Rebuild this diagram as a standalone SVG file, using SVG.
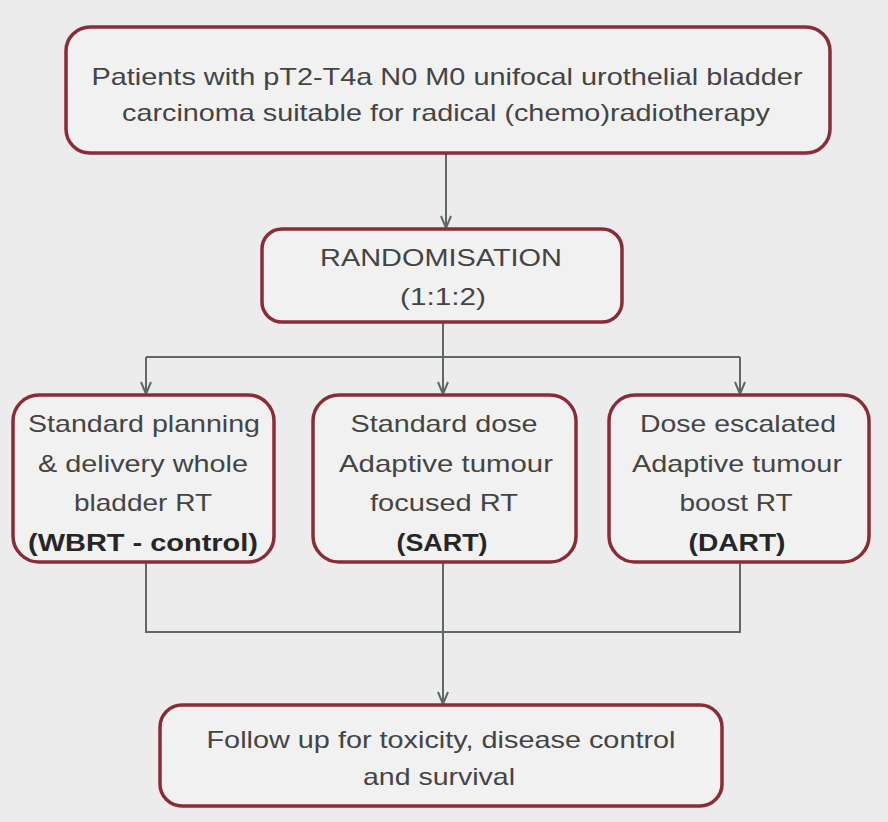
<svg xmlns="http://www.w3.org/2000/svg" width="888" height="822" viewBox="0 0 888 822">
<defs>
<style>
.box{fill:#f1f1f1;stroke:#8a2c38;stroke-width:3.5}
.t{font-family:"Liberation Sans",Arial,sans-serif;font-size:24px;fill:#444;text-anchor:middle}
.b{font-weight:bold;fill:#262626}
.c{fill:none;stroke:#5f6767;stroke-width:2}
</style>
<marker id="ah" viewBox="0 0 14 12" refX="13" refY="6" markerWidth="14" markerHeight="12" markerUnits="userSpaceOnUse" orient="auto">
<path d="M1,1 L13,6 L1,11" fill="none" stroke="#5f6767" stroke-width="2"/>
</marker>
</defs>
<rect width="888" height="822" fill="#ececec"/>
<g id="connectors">
<line class="c" x1="446" y1="153" x2="446" y2="228" marker-end="url(#ah)"/>
<line class="c" x1="443" y1="322" x2="443" y2="394" marker-end="url(#ah)"/>
<line class="c" x1="146" y1="357" x2="740" y2="357"/>
<line class="c" x1="146" y1="357" x2="146" y2="394" marker-end="url(#ah)"/>
<line class="c" x1="740" y1="357" x2="740" y2="394" marker-end="url(#ah)"/>
<polyline class="c" points="146,562 146,632 740,632 740,562"/>
<line class="c" x1="443" y1="562" x2="443" y2="704" marker-end="url(#ah)"/>
</g>
<g id="patients">
<rect class="box" x="66" y="27" width="764" height="126" rx="24"/>
<text class="t" x="447" y="85" textLength="711" lengthAdjust="spacingAndGlyphs">Patients with pT2-T4a N0 M0 unifocal urothelial bladder</text>
<text class="t" x="446" y="121" textLength="648" lengthAdjust="spacingAndGlyphs">carcinoma suitable for radical (chemo)radiotherapy</text>
</g>
<g id="randomisation">
<rect class="box" x="262" y="229" width="360" height="93" rx="20"/>
<text class="t" x="441" y="266" textLength="242" lengthAdjust="spacingAndGlyphs">RANDOMISATION</text>
<text class="t" x="443" y="305" textLength="86" lengthAdjust="spacingAndGlyphs">(1:1:2)</text>
</g>
<g id="wbrt">
<rect class="box" x="13" y="395" width="261" height="167" rx="26"/>
<text class="t" x="144" y="432" textLength="232" lengthAdjust="spacingAndGlyphs">Standard planning</text>
<text class="t" x="143" y="472" textLength="210" lengthAdjust="spacingAndGlyphs">&amp; delivery whole</text>
<text class="t" x="143" y="511" textLength="138" lengthAdjust="spacingAndGlyphs">bladder RT</text>
<text class="t b" x="143" y="551" textLength="230" lengthAdjust="spacingAndGlyphs">(WBRT - control)</text>
</g>
<g id="sart">
<rect class="box" x="313" y="395" width="263" height="167" rx="26"/>
<text class="t" x="444" y="432" textLength="187" lengthAdjust="spacingAndGlyphs">Standard dose</text>
<text class="t" x="446" y="472" textLength="214" lengthAdjust="spacingAndGlyphs">Adaptive tumour</text>
<text class="t" x="444" y="511" textLength="148" lengthAdjust="spacingAndGlyphs">focused RT</text>
<text class="t b" x="442" y="551" textLength="91" lengthAdjust="spacingAndGlyphs">(SART)</text>
</g>
<g id="dart">
<rect class="box" x="609" y="395" width="260" height="167" rx="26"/>
<text class="t" x="738" y="432" textLength="196" lengthAdjust="spacingAndGlyphs">Dose escalated</text>
<text class="t" x="737" y="472" textLength="210" lengthAdjust="spacingAndGlyphs">Adaptive tumour</text>
<text class="t" x="736" y="511" textLength="113" lengthAdjust="spacingAndGlyphs">boost RT</text>
<text class="t b" x="737" y="551" textLength="97" lengthAdjust="spacingAndGlyphs">(DART)</text>
</g>
<g id="followup">
<rect class="box" x="160" y="705" width="562" height="101" rx="22"/>
<text class="t" x="441" y="748" textLength="469" lengthAdjust="spacingAndGlyphs">Follow up for toxicity, disease control</text>
<text class="t" x="439" y="785" textLength="152" lengthAdjust="spacingAndGlyphs">and survival</text>
</g>
</svg>
